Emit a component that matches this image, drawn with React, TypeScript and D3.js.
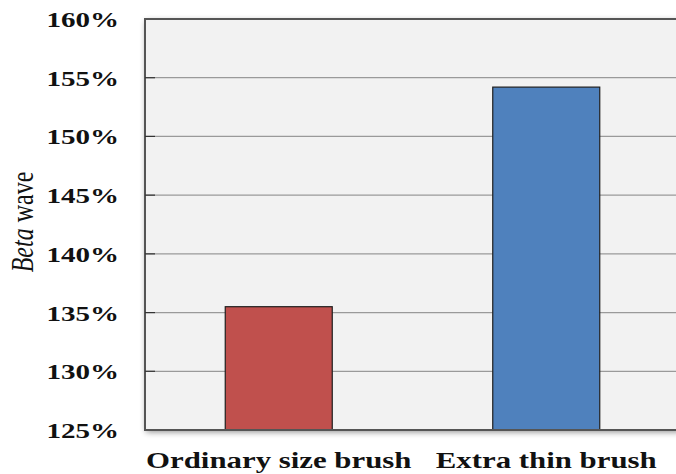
import React from "react";
import * as d3 from "d3";

const categories = ["Ordinary size brush", "Extra thin brush"];
const values = [135.5, 154.2];
const barColors = ["#c0504d", "#4f81bd"];
const yTicks = [125, 130, 135, 140, 145, 150, 155, 160];

const W = 676;
const H = 474;
const plot = { left: 145, top: 19, right: 680, bottom: 430 };
const stretch = 1.32;

export default function App() {
  const x = d3
    .scaleBand<string>()
    .domain(categories)
    .range([plot.left, plot.right])
    .paddingInner(0.6)
    .paddingOuter(0.3);
  const y = d3.scaleLinear().domain([125, 160]).range([plot.bottom, plot.top]);
  const font = "'Liberation Serif', 'Times New Roman', Times, 'DejaVu Serif', serif";

  return (
    <svg
      width={W}
      height={H}
      style={{ position: "absolute", left: 0, top: 0, background: "#fff" }}
    >
      <defs>
        <filter id="shadow" x="-10%" y="-10%" width="120%" height="120%">
          <feGaussianBlur in="SourceAlpha" stdDeviation="3" />
          <feOffset dx="1" dy="2" result="b" />
          <feComponentTransfer>
            <feFuncA type="linear" slope="0.45" />
          </feComponentTransfer>
          <feMerge>
            <feMergeNode />
            <feMergeNode in="SourceGraphic" />
          </feMerge>
        </filter>
      </defs>

      {/* plot background with soft shadow */}
      <rect
        x={plot.left}
        y={plot.top}
        width={plot.right - plot.left}
        height={plot.bottom - plot.top}
        fill="#f2f2f2"
        filter="url(#shadow)"
      />

      {/* gridlines */}
      {yTicks.slice(1, -1).map((t) => (
        <line
          key={t}
          x1={plot.left}
          x2={plot.right}
          y1={y(t)}
          y2={y(t)}
          stroke="#9a9a9a"
          strokeWidth={1.2}
        />
      ))}

      {/* bars */}
      {categories.map((c, i) => (
        <rect
          key={c}
          x={x(c)}
          y={y(values[i])}
          width={x.bandwidth()}
          height={plot.bottom - y(values[i])}
          fill={barColors[i]}
          stroke="#1f1f1f"
          strokeWidth={1.2}
        />
      ))}

      {/* plot frame */}
      <path
        d={`M${plot.right},${plot.top}H${plot.left}V${plot.bottom}H${plot.right}`}
        fill="none"
        stroke="#555"
        strokeWidth={2}
      />

      {/* tick marks */}
      {yTicks.slice(1, -1).map((t) => (
        <line
          key={t}
          x1={plot.left}
          x2={plot.left + 10}
          y1={y(t)}
          y2={y(t)}
          stroke="#333"
          strokeWidth={1.2}
        />
      ))}

      {/* y tick labels */}
      {yTicks.map((t) => (
        <text
          key={t}
          transform={`translate(119,${y(t) + 8}) scale(${stretch},1)`}
          textAnchor="end"
          style={{ fontFamily: font }}
          fontWeight="bold"
          fontSize={22}
          fill="#111"
        >
          {`${t}%`}
        </text>
      ))}

      {/* x labels */}
      {categories.map((c) => (
        <text
          key={c}
          transform={`translate(${(x(c) as number) + x.bandwidth() / 2},468) scale(1.34,1)`}
          textAnchor="middle"
          style={{ fontFamily: font }}
          fontWeight="bold"
          fontSize={23}
          fill="#111"
        >
          {c}
        </text>
      ))}

      {/* y axis title */}
      <text
        transform={`translate(33,222) scale(${stretch},1) rotate(-90)`}
        textAnchor="middle"
        style={{ fontFamily: font }}
        fontSize={24}
        fill="#111"
      >
        <tspan fontStyle="italic">Beta</tspan>
        <tspan> wave</tspan>
      </text>
    </svg>
  );
}
